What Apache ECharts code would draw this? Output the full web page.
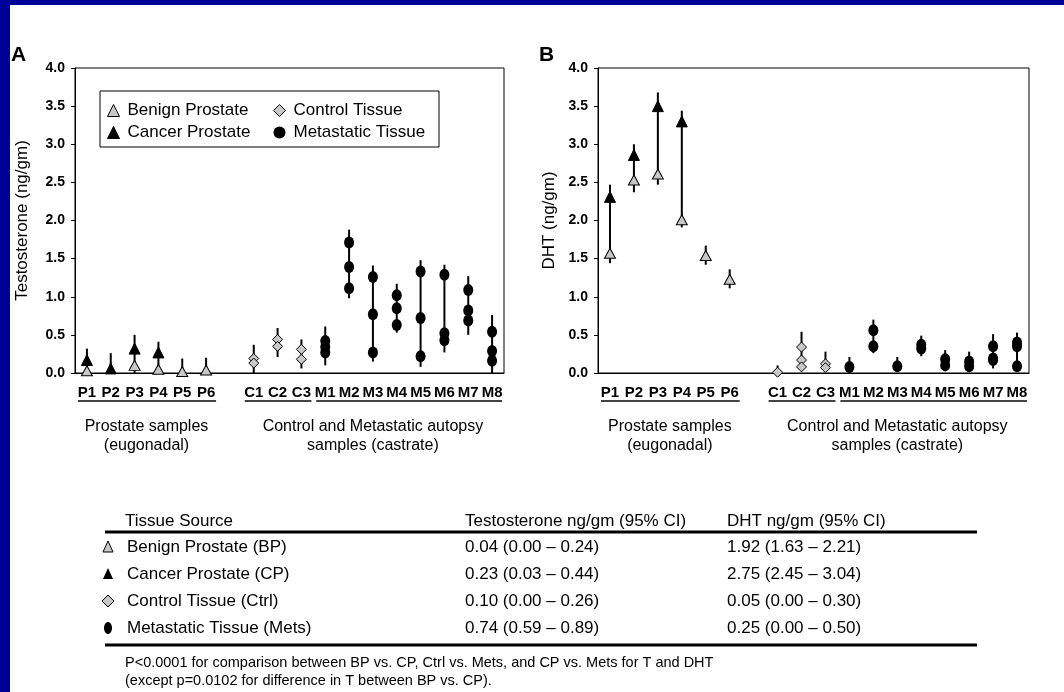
<!DOCTYPE html>
<html>
<head>
<meta charset="utf-8">
<script src="https://cdn.jsdelivr.net/npm/echarts@6/dist/echarts.min.js"></script>
<style>
  html, body { margin: 0; padding: 0; background: #fff; }
  #main { width: 1064px; height: 692px; }
</style>
</head>
<body>
<div id="main"></div>
<script>
// 样本类别（空字符串为组间空位）
const categories = ['P1', 'P2', 'P3', 'P4', 'P5', 'P6', '', 'C1', 'C2', 'C3',
  'M1', 'M2', 'M3', 'M4', 'M5', 'M6', 'M7', 'M8'];

// A: Testosterone (ng/gm)
const tBenign = [0.03, null, 0.10, 0.05, 0.02, 0.04];
const tCancer = [0.17, 0.06, 0.32, 0.27, null, null];
const tControl = [[0.19, 0.13], [0.44, 0.35], [0.31, 0.18]];
const tMets = [[0.42, 0.34, 0.27], [1.71, 1.39, 1.11], [1.26, 0.77, 0.27], [1.02, 0.85, 0.63],
  [1.33, 0.72, 0.22], [1.29, 0.52, 0.43], [1.09, 0.82, 0.69], [0.54, 0.29, 0.16]];
const tRange = [[0, 0.32], [0, 0.26], [0, 0.50], [0, 0.41], [0, 0.19], [0, 0.20], null,
  [0, 0.37], [0.21, 0.59], [0.06, 0.44],
  [0.10, 0.61], [0.98, 1.88], [0.15, 1.41], [0.53, 1.17], [0.08, 1.48], [0.27, 1.42], [0.50, 1.27], [0, 0.76]];

// B: DHT (ng/gm)
const dBenign = [1.57, 2.53, 2.61, 2.01, 1.54, 1.23];
const dCancer = [2.31, 2.86, 3.50, 3.30, null, null];
const dControl = [[0.01], [0.34, 0.17, 0.08], [0.12, 0.07]];
const dMets = [[0.08], [0.56, 0.35], [0.09], [0.37, 0.32], [0.18, 0.10], [0.15, 0.09],
  [0.35, 0.19, 0.17], [0.40, 0.35, 0.09]];
const dRange = [[1.44, 2.47], [2.37, 3.00], [2.47, 3.68], [1.91, 3.44], [1.42, 1.67], [1.11, 1.36], null,
  [0, 0.10], [0.04, 0.54], [0.03, 0.28],
  [0.02, 0.21], [0.26, 0.70], [0.02, 0.21], [0.22, 0.49], [0.04, 0.30], [0.02, 0.28], [0.06, 0.51], [0.02, 0.53]];

// 表格
const tableHeader = ['Tissue Source', 'Testosterone ng/gm (95% CI)', 'DHT ng/gm (95% CI)'];
const tissueNames = ['Benign Prostate (BP)', 'Cancer Prostate (CP)', 'Control Tissue (Ctrl)', 'Metastatic Tissue (Mets)'];
const tCI = ['0.04 (0.00 – 0.24)', '0.23 (0.03 – 0.44)', '0.10 (0.00 – 0.26)', '0.74 (0.59 – 0.89)'];
const dhtCI = ['1.92 (1.63 – 2.21)', '2.75 (2.45 – 3.04)', '0.05 (0.00 – 0.30)', '0.25 (0.00 – 0.50)'];
const footnotes = ['P<0.0001 for comparison between BP vs. CP, Ctrl vs. Mets, and CP vs. Mets for T and DHT',
  '(except p=0.0102 for difference in T between BP vs. CP).'];

const FONT = '"Liberation Sans", Arial, sans-serif';
const GRAY = '#c8c8c8';

function pts(vals) {
  let out = [];
  vals.forEach((v, i) => { if (v != null) out.push([i, v]); });
  return out;
}
function groupPts(groups, prefix) {
  let out = [];
  groups.forEach((g, i) => {
    let ci = categories.indexOf(prefix + (i + 1));
    g.forEach(v => out.push([ci, v]));
  });
  return out;
}
function ranges(r) {
  return r.map((p, i) => p ? [i, p[0], p[1]] : null).filter(Boolean);
}

const chart = echarts.init(document.getElementById('main'));

const grayStyle = { color: GRAY, borderColor: '#000', borderWidth: 1, opacity: 1 };
const blackStyle = { color: '#000', borderColor: '#000', borderWidth: 1, opacity: 1 };

function makeSeries(k, benign, cancer, control, mets, range) {
  return [
    {
      type: 'custom', name: 'ci' + k, xAxisIndex: k, yAxisIndex: k, silent: true, z: 1,
      encode: { x: 0, y: [1, 2] },
      data: ranges(range),
      renderItem: (params, api) => {
        let p1 = api.coord([api.value(0), api.value(1)]);
        let p2 = api.coord([api.value(0), api.value(2)]);
        return {
          type: 'line',
          shape: { x1: p1[0], y1: p1[1], x2: p2[0], y2: p2[1] },
          style: { stroke: '#000', lineWidth: 2 }
        };
      }
    },
    {
      type: 'scatter', name: 'Cancer Prostate', xAxisIndex: k, yAxisIndex: k, z: 3,
      symbol: 'triangle', symbolSize: [11, 11], itemStyle: blackStyle,
      data: pts(cancer)
    },
    {
      type: 'scatter', name: 'Benign Prostate', xAxisIndex: k, yAxisIndex: k, z: 3,
      symbol: 'triangle', symbolSize: [11, 10], itemStyle: grayStyle,
      data: pts(benign)
    },
    {
      type: 'scatter', name: 'Control Tissue', xAxisIndex: k, yAxisIndex: k, z: 3,
      symbol: 'diamond', symbolSize: [10, 10], itemStyle: grayStyle,
      data: groupPts(control, 'C')
    },
    {
      type: 'scatter', name: 'Metastatic Tissue', xAxisIndex: k, yAxisIndex: k, z: 3,
      symbol: 'circle', symbolSize: [10, 12],
      itemStyle: { color: '#000', opacity: 1 },
      data: groupPts(mets, 'M')
    }
  ];
}

function xAxisOf(k) {
  return {
    type: 'category', gridIndex: k, data: categories,
    axisLine: { show: true, lineStyle: { color: '#000', width: 1 } },
    axisTick: { show: false },
    axisLabel: { interval: 0, margin: 12, color: '#000', fontWeight: 'bold', fontSize: 15, fontFamily: FONT },
    splitLine: { show: false }
  };
}
function yAxisOf(k, name, gap) {
  return {
    type: 'value', gridIndex: k, min: 0, max: 4, interval: 0.5,
    name: name, nameLocation: 'middle', nameGap: gap,
    nameTextStyle: { color: '#000', fontSize: 17, fontFamily: FONT },
    axisLine: { show: true, lineStyle: { color: '#000', width: 1 } },
    axisTick: { show: true, length: 4, lineStyle: { color: '#000' } },
    axisLabel: { margin: 10, color: '#000', fontWeight: 'bold', fontSize: 14, fontFamily: FONT,
      formatter: v => v.toFixed(1) },
    splitLine: { show: false }
  };
}

const legendText = { fontSize: 17, color: '#000', fontFamily: FONT, padding: [0, 0, 0, 3] };

chart.setOption({
  animation: false,
  backgroundColor: '#fff',
  grid: [
    { left: 75, top: 68, width: 429, height: 305, show: true, borderColor: '#000', borderWidth: 1, outerBoundsMode: 'none' },
    { left: 598, top: 68, width: 431, height: 305, show: true, borderColor: '#000', borderWidth: 1, outerBoundsMode: 'none' }
  ],
  xAxis: [xAxisOf(0), xAxisOf(1)],
  yAxis: [yAxisOf(0, 'Testosterone (ng/gm)', 44), yAxisOf(1, 'DHT (ng/gm)', 40)],
  legend: [
    { left: 107, top: 102, orient: 'vertical', padding: 0, itemGap: 5, itemWidth: 12, itemHeight: 12,
      selectedMode: false, textStyle: legendText, z: 5,
      data: [
        { name: 'Benign Prostate', icon: 'triangle', itemStyle: grayStyle },
        { name: 'Cancer Prostate', icon: 'triangle', itemStyle: blackStyle }
      ] },
    { left: 273, top: 102, orient: 'vertical', padding: 0, itemGap: 5, itemWidth: 12, itemHeight: 12,
      selectedMode: false, textStyle: legendText, z: 5,
      data: [
        { name: 'Control Tissue', icon: 'diamond', itemStyle: grayStyle },
        { name: 'Metastatic Tissue', icon: 'circle', itemStyle: { color: '#000', opacity: 1 } }
      ] }
  ],
  series: makeSeries(0, tBenign, tCancer, tControl, tMets, tRange)
    .concat(makeSeries(1, dBenign, dCancer, dControl, dMets, dRange))
});

// 组标签、下划线、表格等
function txt(x, y, s, size) {
  return { type: 'text', x: x, y: y, z: 10, silent: true,
    style: { text: s, fontSize: size, fontFamily: FONT, fill: '#000', textAlign: 'left', textVerticalAlign: 'middle' } };
}
function ctxt(x, y, s, size) {
  return { type: 'text', x: x, y: y, z: 10, silent: true,
    style: { text: s, fontSize: size, fontFamily: FONT, fill: '#000', textAlign: 'center', textVerticalAlign: 'middle' } };
}
function hline(x1, x2, y, w, color) {
  return { type: 'line', z: 10, silent: true, shape: { x1: x1, y1: y, x2: x2, y2: y },
    style: { stroke: color || '#000', lineWidth: w } };
}

let g = [];
// 蓝色边框
g.push({ type: 'rect', z: 20, silent: true, shape: { x: 0, y: 0, width: 1064, height: 5 }, style: { fill: '#000099' } });
g.push({ type: 'rect', z: 20, silent: true, shape: { x: 0, y: 0, width: 10, height: 692 }, style: { fill: '#000099' } });

// 图例框
g.push({ type: 'rect', z: 4, silent: true, shape: { x: 100, y: 91, width: 339, height: 56 },
  style: { fill: '#fff', stroke: '#000', lineWidth: 1 } });

// 面板字母
g.push({ type: 'text', x: 11, y: 55, z: 10, silent: true,
  style: { text: 'A', fontSize: 21, fontWeight: 'bold', fontFamily: FONT, fill: '#000', textVerticalAlign: 'middle' } });
g.push({ type: 'text', x: 539, y: 55, z: 10, silent: true,
  style: { text: 'B', fontSize: 21, fontWeight: 'bold', fontFamily: FONT, fill: '#000', textVerticalAlign: 'middle' } });

const groups = [['P1', 'P6'], ['C1', 'C3'], ['M1', 'M8']];
[0, 1].forEach(k => {
  let px = c => chart.convertToPixel({ xAxisIndex: k }, c);
  let y0 = chart.convertToPixel({ yAxisIndex: k }, 0);
  groups.forEach(gr => {
    g.push(hline(px(gr[0]) - 9, px(gr[1]) + 10, y0 + 28, 2, '#444'));
  });
  let pc = (px('P1') + px('P6')) / 2;
  g.push(ctxt(pc, y0 + 54, 'Prostate samples', 16));
  g.push(ctxt(pc, y0 + 73, '(eugonadal)', 16));
  let cc = (px('C1') + px('M8')) / 2;
  g.push(ctxt(cc, y0 + 54, 'Control and Metastatic autopsy', 16));
  g.push(ctxt(cc, y0 + 73, 'samples (castrate)', 16));
});

// 表格
const colX = [125, 465, 727];
tableHeader.forEach((h, i) => g.push(txt(colX[i], 521, h, 17)));
g.push(hline(105, 977, 532, 3));
const rowY = [547, 574, 601, 628];
tissueNames.forEach((n, i) => {
  g.push(txt(127, rowY[i], n, 17));
  g.push(txt(colX[1], rowY[i], tCI[i], 17));
  g.push(txt(colX[2], rowY[i], dhtCI[i], 17));
});
// 表格符号
const sx = 108;
g.push({ type: 'polygon', z: 10, silent: true, shape: { points: [[sx, rowY[0] - 6], [sx + 5, rowY[0] + 5], [sx - 5, rowY[0] + 5]] },
  style: { fill: GRAY, stroke: '#000', lineWidth: 1 } });
g.push({ type: 'polygon', z: 10, silent: true, shape: { points: [[sx, rowY[1] - 6], [sx + 5, rowY[1] + 5], [sx - 5, rowY[1] + 5]] },
  style: { fill: '#000' } });
g.push({ type: 'polygon', z: 10, silent: true, shape: { points: [[sx, rowY[2] - 6], [sx + 6, rowY[2]], [sx, rowY[2] + 6], [sx - 6, rowY[2]]] },
  style: { fill: GRAY, stroke: '#000', lineWidth: 1 } });
g.push({ type: 'ellipse', z: 10, silent: true, shape: { cx: sx, cy: rowY[3], rx: 4, ry: 6 }, style: { fill: '#000' } });
g.push(hline(105, 977, 645, 3));
footnotes.forEach((f, i) => g.push(txt(125, 663 + i * 18, f, 14.5)));

chart.setOption({ graphic: g });
</script>
</body>
</html>
